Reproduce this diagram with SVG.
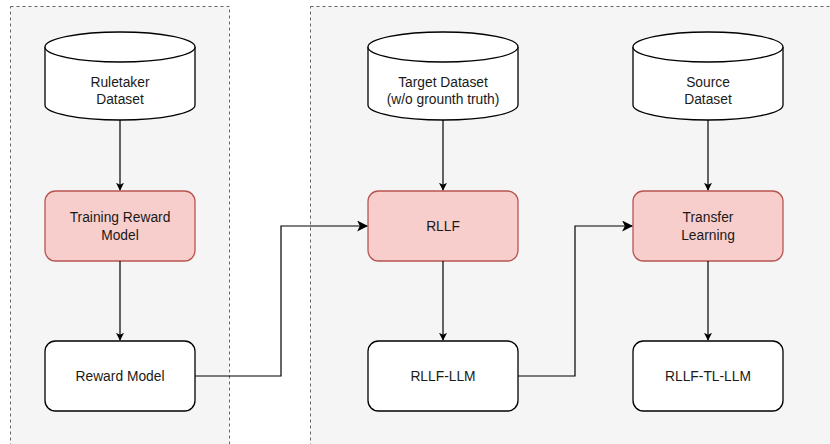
<svg xmlns="http://www.w3.org/2000/svg" width="830" height="444" viewBox="0 0 830 444">
  <defs>
    <style>
      .group { fill: #f5f5f5; stroke: #666666; stroke-width: 1; stroke-dasharray: 3 3; }
      .db { fill: #ffffff; stroke: #000000; stroke-width: 1.3; }
      .step { fill: #f8cecc; stroke: #b85450; stroke-width: 1.3; }
      .out { fill: #ffffff; stroke: #000000; stroke-width: 1.3; }
      .label { font-family: "Liberation Sans", Arial, sans-serif; font-size: 13.8px; fill: #1a1a1a; text-anchor: middle; }
      .edge { fill: none; stroke: #000000; stroke-width: 1.2; }
    </style>
    <marker id="arrow" viewBox="0 0 10 10" refX="9" refY="5" markerWidth="8" markerHeight="8" markerUnits="userSpaceOnUse" orient="auto">
      <path d="M0,0 L10,5 L0,10 L2.5,5 Z" fill="#000000"/>
    </marker>
    <marker id="arrowBig" viewBox="0 0 10 10" refX="9" refY="5" markerWidth="11" markerHeight="11" markerUnits="userSpaceOnUse" orient="auto">
      <path d="M0,0 L10,5 L0,10 L2.5,5 Z" fill="#000000"/>
    </marker>
  </defs>

  <!-- background containers -->
  <g id="group-reward">
    <rect class="group" x="10.5" y="6.5" width="219" height="460"/>
  </g>
  <g id="group-rllf">
    <rect class="group" x="310.5" y="6.5" width="540" height="460"/>
  </g>

  <!-- datasets -->
  <g id="ruletaker-dataset">
    <path class="db" d="M45,47 A75,15 0 0 1 195,47 L195,105 A75,15 0 0 1 45,105 Z"/>
    <path class="db" d="M45,47 A75,15 0 0 0 195,47" fill="none"/>
    <text class="label" x="120" y="87">Ruletaker</text>
    <text class="label" x="120" y="104">Dataset</text>
  </g>
  <g id="target-dataset">
    <path class="db" d="M368,47 A75,15 0 0 1 518,47 L518,105 A75,15 0 0 1 368,105 Z"/>
    <path class="db" d="M368,47 A75,15 0 0 0 518,47" fill="none"/>
    <text class="label" x="443" y="87">Target Dataset</text>
    <text class="label" x="443" y="104">(w/o grounth truth)</text>
  </g>
  <g id="source-dataset">
    <path class="db" d="M633,47 A75,15 0 0 1 783,47 L783,105 A75,15 0 0 1 633,105 Z"/>
    <path class="db" d="M633,47 A75,15 0 0 0 783,47" fill="none"/>
    <text class="label" x="708" y="87">Source</text>
    <text class="label" x="708" y="104">Dataset</text>
  </g>

  <!-- process steps -->
  <g id="training-reward-model">
    <rect class="step" x="45" y="191" width="150" height="70" rx="10.5"/>
    <text class="label" x="120" y="222">Training Reward</text>
    <text class="label" x="120" y="240">Model</text>
  </g>
  <g id="rllf">
    <rect class="step" x="368" y="191" width="150" height="70" rx="10.5"/>
    <text class="label" x="443" y="231">RLLF</text>
  </g>
  <g id="transfer-learning">
    <rect class="step" x="633" y="191" width="150" height="70" rx="10.5"/>
    <text class="label" x="708" y="222">Transfer</text>
    <text class="label" x="708" y="240">Learning</text>
  </g>

  <!-- outputs -->
  <g id="reward-model">
    <rect class="out" x="45" y="341" width="150" height="70" rx="10.5"/>
    <text class="label" x="120" y="381">Reward Model</text>
  </g>
  <g id="rllf-llm">
    <rect class="out" x="368" y="341" width="150" height="70" rx="10.5"/>
    <text class="label" x="443" y="381">RLLF-LLM</text>
  </g>
  <g id="rllf-tl-llm">
    <rect class="out" x="633" y="341" width="150" height="70" rx="10.5"/>
    <text class="label" x="708" y="381">RLLF-TL-LLM</text>
  </g>

  <!-- connectors -->
  <g id="connectors">
    <path class="edge" d="M120,120 L120,190" marker-end="url(#arrow)"/>
    <path class="edge" d="M120,261 L120,340" marker-end="url(#arrow)"/>
    <path class="edge" d="M443,120 L443,190" marker-end="url(#arrow)"/>
    <path class="edge" d="M443,261 L443,340" marker-end="url(#arrow)"/>
    <path class="edge" d="M708,120 L708,190" marker-end="url(#arrow)"/>
    <path class="edge" d="M708,261 L708,340" marker-end="url(#arrow)"/>
    <path class="edge" d="M195,376 L281,376 L281,226 L367,226" marker-end="url(#arrowBig)"/>
    <path class="edge" d="M518,376 L575,376 L575,226 L632,226" marker-end="url(#arrowBig)"/>
  </g>
</svg>
